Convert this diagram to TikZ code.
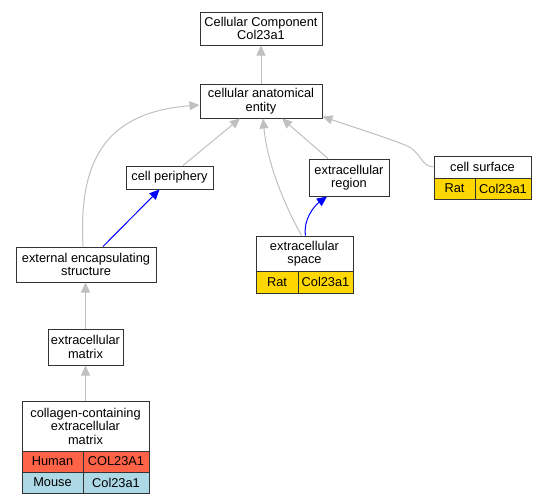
\documentclass[tikz,border=0pt]{standalone}
\usepackage{fontspec}
\setmainfont{Liberation Sans}
\usetikzlibrary{arrows.meta}
\definecolor{edgegray}{RGB}{192,192,192}
\definecolor{ratgold}{RGB}{255,215,0}
\definecolor{humanred}{RGB}{255,99,71}
\definecolor{mouseblue}{RGB}{173,216,230}
\definecolor{boxline}{RGB}{51,51,51}

\begin{document}
\begin{tikzpicture}[x=1pt,y=1pt]
\tikzstyle{every node}+=[inner sep=0pt, font=\fontsize{12.8}{13.5}\selectfont]
\tikzstyle{term}=[draw=boxline, line width=1pt, fill=white, align=center]
\tikzstyle{cell}=[draw=boxline, line width=1pt, align=center]
\tikzstyle{isa}=[edgegray, line width=1pt, -{Triangle[length=10pt,width=9pt]}]
\tikzstyle{partof}=[blue, line width=1pt, -{Triangle[length=10pt,width=9pt]}]
\useasboundingbox (0,0) rectangle (547,-504);
\node[term, minimum width=122pt, minimum height=33pt] (cc) at (261,-28.5) {Cellular Component\\Col23a1};
\node[term, minimum width=122pt, minimum height=34pt] (ent) at (261,-101) {cellular anatomical\\entity};
\node[term, minimum width=87pt, minimum height=23pt] (per) at (169.5,-177.5) {cell periphery};
\node[term, minimum width=80pt, minimum height=37pt] (ereg) at (349,-177.5) {extracellular\\region};
\node[term, minimum width=97pt, minimum height=22pt] (cs) at (482.5,-167) {cell surface};
\node[cell, fill=ratgold, minimum width=41pt, minimum height=21pt] (csrat) at (454.5,-188.5) {Rat};
\node[cell, fill=ratgold, minimum width=56pt, minimum height=21pt] (csgene) at (503,-188.5) {Col23a1};
\node[term, minimum width=97pt, minimum height=35pt] (ecs) at (304.5,-253.5) {extracellular\\space};
\node[cell, fill=ratgold, minimum width=42pt, minimum height=22pt] (ecsrat) at (277,-282) {Rat};
\node[cell, fill=ratgold, minimum width=55pt, minimum height=22pt] (ecsgene) at (325.5,-282) {Col23a1};
\node[term, minimum width=140pt, minimum height=35pt] (ees) at (86,-264.5) {external encapsulating\\structure};
\node[term, minimum width=75pt, minimum height=36pt] (ecm) at (85.5,-347) {extracellular\\matrix};
\node[term, minimum width=127pt, minimum height=50pt] (coll) at (85.5,-426) {collagen-containing\\extracellular\\matrix};
\node[cell, fill=humanred, minimum width=61pt, minimum height=21pt] (collhuman) at (52.5,-461.5) {Human};
\node[cell, fill=humanred, minimum width=66pt, minimum height=21pt] (collhgene) at (116,-461.5) {COL23A1};
\node[cell, fill=mouseblue, minimum width=61pt, minimum height=21pt] (collmouse) at (52.5,-482.5) {Mouse};
\node[cell, fill=mouseblue, minimum width=66pt, minimum height=21pt] (collmgene) at (116,-482.5) {Col23a1};
\draw[isa] (ent) -- (cc);
\draw[isa] ([xshift=-3pt]ees.north) .. controls (78,-155) and (110,-112) .. ([yshift=-4pt]ent.west);
\draw[isa] ([xshift=13.5pt]per.north) -- ([xshift=-21pt]ent.south);
\draw[isa] ([xshift=-3pt]ecs.north) .. controls (290,-215) and (268,-170) .. ([xshift=2pt]ent.south);
\draw[isa] ([xshift=-21pt]ereg.north) -- ([xshift=21pt]ent.south);
\draw[isa] (cs.west) .. controls (420,-166) and (422,-152) .. (405,-145) .. controls (385,-137) and (350,-126) .. ([yshift=2pt]ent.south east);
\draw[partof] ([xshift=17pt]ees.north) -- ([xshift=-10pt]per.south);
\draw[partof] ([xshift=1pt]ecs.north) .. controls (303,-220) and (314,-206) .. ([xshift=-22pt]ereg.south);
\draw[isa] (ecm.north) -- (ecm.north |- ees.south);
\draw[isa] (coll.north) -- (coll.north |- ecm.south);
\end{tikzpicture}
\end{document}
